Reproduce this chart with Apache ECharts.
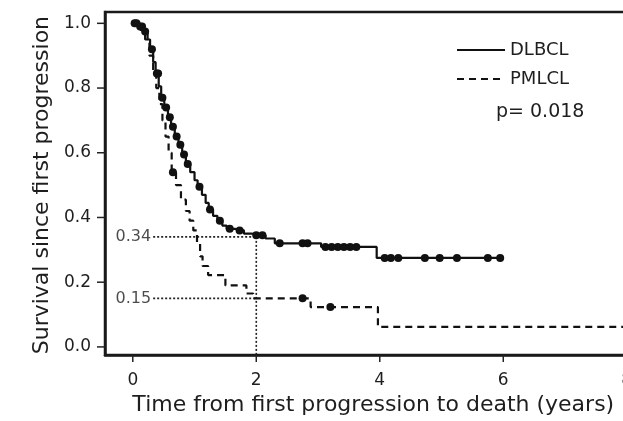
<!DOCTYPE html>
<html>
<head>
<meta charset="utf-8">
<script src="https://cdn.jsdelivr.net/npm/echarts@6/dist/echarts.min.js"></script>
<style>
html,body{margin:0;padding:0;background:#fff;}
#chart{width:623px;height:421px;}
</style>
</head>
<body>
<div id="chart"></div>
<script>
// ---- data ----
var xTicks = [0, 2, 4, 6, 8];
var yTicks = [0, 0.2, 0.4, 0.6, 0.8, 1.0];
var xTickMax = 8, xTickStep = 2;
var yTickMax = 1.0, yTickStep = 0.2;

var dlbclTime = [0, 0.1, 0.18, 0.24, 0.28, 0.33, 0.37, 0.42, 0.46, 0.51, 0.57, 0.62, 0.68, 0.74, 0.8, 0.86, 0.93, 1.0, 1.05, 1.12, 1.18, 1.23, 1.3, 1.37, 1.45, 1.52, 1.65, 1.8, 1.92, 2.15, 2.3, 3.05, 3.95, 5.95];
var dlbclSurv = [1.0, 0.99, 0.975, 0.95, 0.92, 0.88, 0.845, 0.805, 0.77, 0.74, 0.71, 0.68, 0.65, 0.625, 0.595, 0.565, 0.54, 0.515, 0.495, 0.47, 0.445, 0.425, 0.405, 0.39, 0.375, 0.365, 0.36, 0.35, 0.345, 0.335, 0.32, 0.309, 0.275, 0.275];

var dlbclCensorTime = [0.03, 0.06, 0.12, 0.15, 0.2, 0.31, 0.39, 0.41, 0.48, 0.54, 0.6, 0.65, 0.71, 0.77, 0.83, 0.89, 1.08, 1.25, 1.41, 1.57, 1.73, 2.0, 2.1, 2.38, 2.75, 2.83, 3.12, 3.22, 3.32, 3.42, 3.52, 3.62, 4.08, 4.18, 4.3, 4.73, 4.97, 5.25, 5.75, 5.95];
var dlbclCensorSurv = [1.0, 1.0, 0.99, 0.99, 0.975, 0.92, 0.845, 0.845, 0.77, 0.74, 0.71, 0.68, 0.65, 0.625, 0.595, 0.565, 0.495, 0.425, 0.39, 0.365, 0.36, 0.345, 0.345, 0.32, 0.32, 0.32, 0.309, 0.309, 0.309, 0.309, 0.309, 0.309, 0.275, 0.275, 0.275, 0.275, 0.275, 0.275, 0.275, 0.275];

var pmlclTime = [0, 0.12, 0.2, 0.27, 0.33, 0.38, 0.43, 0.48, 0.53, 0.58, 0.63, 0.7, 0.78, 0.86, 0.92, 0.98, 1.04, 1.09, 1.13, 1.22, 1.5, 1.84, 1.95, 2.88, 3.97, 8.5];
var pmlclSurv = [1.0, 0.98, 0.95, 0.9, 0.85, 0.8, 0.75, 0.7, 0.65, 0.6, 0.54, 0.5, 0.455, 0.42, 0.39, 0.36, 0.32, 0.28, 0.25, 0.222, 0.19, 0.165, 0.15, 0.123, 0.062, 0.062];

var pmlclCensorTime = [0.65, 2.75, 3.2];
var pmlclCensorSurv = [0.54, 0.15, 0.123];

var refLevels = [0.34, 0.15];
var refLabels = ['0.34', '0.15'];
var refStart = 0.33;
var refTime = 2;
var pValueText = 'p= 0.018';
var seriesNames = ['DLBCL', 'PMLCL'];

// ---- layout (frame grid and the padded axis range, R style) ----
var W = 623, H = 421;
var frame = { left: 105, top: 12, right: 628, bottom: 355 };
var xRange = [-0.45, 8.02], yRange = [-0.025, 1.035];
var yTickLen = 8, xTickLen = 7;

var xPerPx = (xRange[1] - xRange[0]) / (frame.right - frame.left);
var yPerPx = (yRange[1] - yRange[0]) / (frame.bottom - frame.top);
function xPix(v) { return frame.left + (v - xRange[0]) / xPerPx; }
function yPix(v) { return frame.bottom - (v - yRange[0]) / yPerPx; }

var tickGrid = {
  left: xPix(0), right: W - xPix(xTickMax),
  top: yPix(yTickMax), bottom: H - yPix(0)
};

function zip(a, b) { return a.map(function (v, i) { return [v, b[i]]; }); }

var FONT = 'DejaVu Sans';
var INK = '#111';
var TXT = '#1e1e1e';

var refSeries = refLevels.map(function (lv) {
  return {
    type: 'line', silent: true, symbol: 'none', z: 1,
    data: [[refStart, lv], [refTime, lv]],
    lineStyle: { color: '#222', width: 1.6, type: [2, 2] }
  };
});
refSeries.push({
  type: 'line', silent: true, symbol: 'none', z: 1,
  data: [[refTime, refLevels[0]], [refTime, -0.03]],
  lineStyle: { color: '#222', width: 1.6, type: [2, 2] }
});

var pText = {
  id: 'pvalue', type: 'text', left: 496, top: 103,
  style: { text: pValueText, font: '19px "DejaVu Sans"', fill: TXT }
};

var option = {
  backgroundColor: '#fff',
  animation: false,
  grid: [
    { left: frame.left, top: frame.top, right: W - frame.right, bottom: H - frame.bottom,
      outerBoundsMode: 'none', containLabel: false,
      show: true, borderColor: '#1a1a1a', borderWidth: 2.5 },
    { left: tickGrid.left, top: tickGrid.top, right: tickGrid.right, bottom: tickGrid.bottom,
      outerBoundsMode: 'none', containLabel: false, show: false }
  ],
  legend: {
    data: seriesNames,
    orient: 'vertical',
    left: 451, top: 36,
    itemWidth: 48, itemHeight: 14, itemGap: 11,
    itemStyle: { opacity: 0 },
    textStyle: { fontFamily: FONT, fontSize: 18, color: TXT }
  },
  xAxis: [
    {
      gridIndex: 0, type: 'value', min: xRange[0], max: xRange[1],
      splitLine: { show: false }, axisTick: { show: false }, axisLabel: { show: false },
      axisLine: { show: true, onZero: false, lineStyle: { color: '#1a1a1a', width: 2.5 } }
    },
    {
      gridIndex: 1, type: 'value', min: 0, max: xTickMax, interval: xTickStep,
      offset: frame.bottom - yPix(0),
      splitLine: { show: false },
      axisLine: { show: false, onZero: false },
      axisTick: { show: false },
      axisLabel: { margin: 17, fontFamily: FONT, fontSize: 17, color: TXT, showMinLabel: true, showMaxLabel: true },
      name: 'Time from first progression to death (years)',
      nameLocation: 'middle', nameGap: 34,
      nameTextStyle: { fontFamily: FONT, fontSize: 22, color: TXT, padding: [0, 13, 0, 0] }
    }
  ],
  yAxis: [
    {
      gridIndex: 0, type: 'value', min: yRange[0], max: yRange[1],
      splitLine: { show: false }, axisTick: { show: false }, axisLabel: { show: false },
      axisLine: { show: true, onZero: false, lineStyle: { color: '#1a1a1a', width: 2.5 } }
    },
    {
      gridIndex: 1, type: 'value', min: 0, max: yTickMax, interval: yTickStep,
      offset: xPix(0) - frame.left,
      splitLine: { show: false },
      axisLine: { show: false, onZero: false },
      axisTick: { show: false },
      axisLabel: { margin: 14, fontFamily: FONT, fontSize: 17, color: TXT, formatter: function (v) { return v.toFixed(1); } },
      name: 'Survival since first progression',
      nameLocation: 'middle', nameGap: 30,
      nameTextStyle: { fontFamily: FONT, fontSize: 22, color: TXT }
    }
  ],
  graphic: [pText],
  series: refSeries.concat([
    {
      name: seriesNames[0], type: 'line', step: 'end', symbol: 'none', z: 3,
      data: zip(dlbclTime, dlbclSurv),
      lineStyle: { color: INK, width: 2.2, type: 'solid' }, itemStyle: { color: INK }
    },
    {
      name: seriesNames[1], type: 'line', step: 'end', symbol: 'none', z: 3,
      data: zip(pmlclTime, pmlclSurv),
      lineStyle: { color: INK, width: 2.2, type: [7, 5] }, itemStyle: { color: INK }
    },
    {
      name: 'DLBCL censored', type: 'scatter', symbol: 'circle', symbolSize: 8, z: 4,
      data: zip(dlbclCensorTime, dlbclCensorSurv), itemStyle: { color: INK, opacity: 1 }
    },
    {
      name: 'PMLCL censored', type: 'scatter', symbol: 'circle', symbolSize: 8, z: 4,
      data: zip(pmlclCensorTime, pmlclCensorSurv), itemStyle: { color: INK, opacity: 1 }
    },
    {
      type: 'scatter', symbolSize: 0, silent: true, z: 5,
      data: refLevels.map(function (lv, i) { return [refStart, lv, refLabels[i]]; }),
      label: {
        show: true, position: 'left', distance: 2,
        fontFamily: FONT, fontSize: 16, color: TXT,
        formatter: function (p) { return p.data[2]; }
      }
    }
  ])
};

var chart = echarts.init(document.getElementById('chart'), null, { renderer: 'canvas' });
chart.setOption(option);

// tick marks placed through the axes' own scales
var tickEls = [pText];
yTicks.forEach(function (v, i) {
  var p = chart.convertToPixel({ gridIndex: 0 }, [xRange[0], v]);
  tickEls.push({
    id: 'ytick' + i, type: 'line', z: 100, silent: true,
    shape: { x1: p[0] - yTickLen, y1: p[1], x2: p[0], y2: p[1] },
    style: { stroke: '#222', lineWidth: 1.5 }
  });
});
xTicks.forEach(function (v, i) {
  var p = chart.convertToPixel({ gridIndex: 0 }, [v, yRange[0]]);
  tickEls.push({
    id: 'xtick' + i, type: 'line', z: 100, silent: true,
    shape: { x1: p[0], y1: p[1], x2: p[0], y2: p[1] + xTickLen },
    style: { stroke: '#222', lineWidth: 1.5 }
  });
});
chart.setOption({ graphic: tickEls });
</script>
</body>
</html>
